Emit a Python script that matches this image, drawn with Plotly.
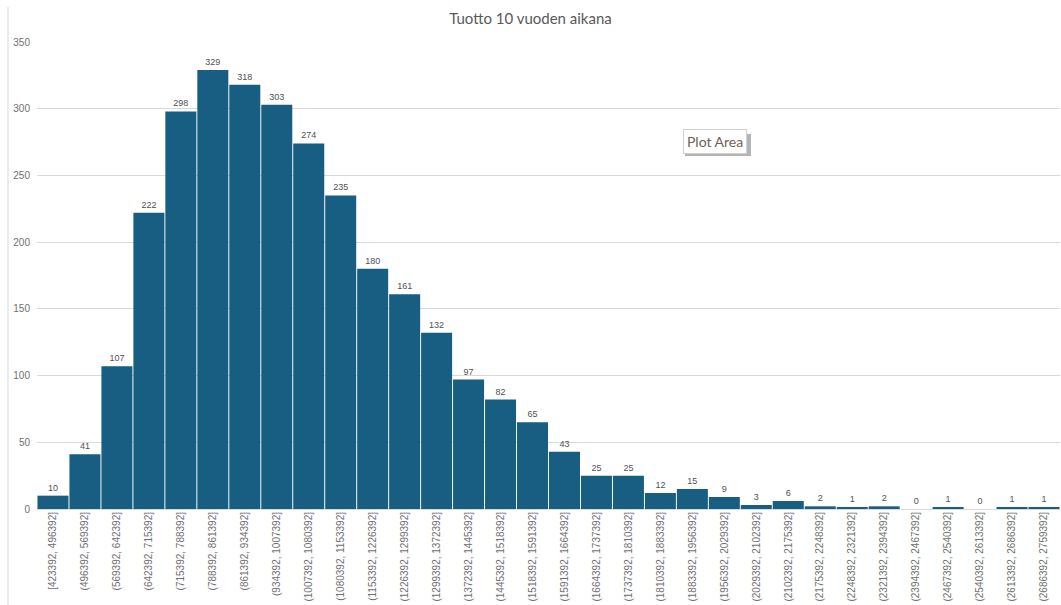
import plotly.graph_objects as go

# Histogram of 10-year returns: bin labels and counts
bins = [
    "[423392, 496392]", "(496392, 569392]", "(569392, 642392]", "(642392, 715392]",
    "(715392, 788392]", "(788392, 861392]", "(861392, 934392]", "(934392, 1007392]",
    "(1007392, 1080392]", "(1080392, 1153392]", "(1153392, 1226392]", "(1226392, 1299392]",
    "(1299392, 1372392]", "(1372392, 1445392]", "(1445392, 1518392]", "(1518392, 1591392]",
    "(1591392, 1664392]", "(1664392, 1737392]", "(1737392, 1810392]", "(1810392, 1883392]",
    "(1883392, 1956392]", "(1956392, 2029392]", "(2029392, 2102392]", "(2102392, 2175392]",
    "(2175392, 2248392]", "(2248392, 2321392]", "(2321392, 2394392]", "(2394392, 2467392]",
    "(2467392, 2540392]", "(2540392, 2613392]", "(2613392, 2686392]", "(2686392, 2759392]",
]
counts = [10, 41, 107, 222, 298, 329, 318, 303, 274, 235, 180, 161, 132, 97, 82, 65,
          43, 25, 25, 12, 15, 9, 3, 6, 2, 1, 2, 0, 1, 0, 1, 1]

W, H = 1061, 605
ML, MR, MT, MB = 37, 1, 42, 96
PW, PH = W - ML - MR, H - MT - MB


def px(x):
    return (x - ML) / PW


def py(y):
    return (H - MB - y) / PH


fig = go.Figure(go.Bar(
    x=bins, y=counts,
    marker=dict(color="#175e82", line=dict(width=0)),
    text=[str(c) for c in counts], textposition="outside",
    textfont=dict(family="Liberation Sans, Arial", size=9, color="#505050"),
    cliponaxis=False,
))

fig.update_layout(
    width=W, height=H,
    margin=dict(l=ML, r=MR, t=MT, b=MB),
    paper_bgcolor="white", plot_bgcolor="white",
    bargap=0.03,
    showlegend=False,
    title=dict(text="Tuotto 10 vuoden aikana", x=0.5, xanchor="center",
               y=1 - 19 / H, yanchor="middle",
               font=dict(family="Lato, Carlito, sans-serif", size=15, color="#595959")),
    xaxis=dict(tickangle=-90, tickfont=dict(family="Liberation Sans, Arial", size=10, color="#707070"),
               showgrid=False, showline=False, ticks="", zeroline=False),
    yaxis=dict(range=[0, 350], dtick=50, showgrid=True, gridcolor="#d9d9d9", gridwidth=1,
               zeroline=True, zerolinecolor="#d9d9d9", zerolinewidth=1,
               tickfont=dict(family="Liberation Sans, Arial", size=10, color="#707070"),
               ticklabelstandoff=6, ticks="", showline=False),
    shapes=[
        # left chart border line
        dict(type="line", xref="paper", yref="paper",
             x0=px(8), x1=px(8), y0=py(7), y1=py(605),
             line=dict(color="#d9d9d9", width=1)),
        # tooltip shadow
        dict(type="rect", xref="paper", yref="paper",
             x0=px(685), x1=px(751), y0=py(134), y1=py(156),
             fillcolor="#b4b4b4", line=dict(width=0), layer="above"),
    ],
    annotations=[
        dict(text="Plot Area", xref="paper", yref="paper",
             x=px(715), y=py(142), xanchor="center", yanchor="middle",
             showarrow=False, bgcolor="white", bordercolor="#d0d0d0", borderwidth=1,
             borderpad=3,
             font=dict(family="Lato, Carlito, sans-serif", size=14, color="#6e6255")),
    ],
)

fig.write_html("out.html")
